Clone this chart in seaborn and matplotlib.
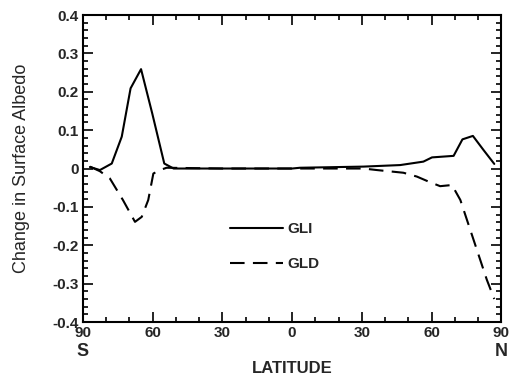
import numpy as np
import pandas as pd
import matplotlib
matplotlib.use("Agg")
import matplotlib.pyplot as plt
import seaborn as sns
from matplotlib.ticker import MultipleLocator

# --- data (latitude: negative = South) ---
gli_lat = [-87, -82.7, -77.6, -73.3, -69.5, -65, -60.2, -55, -51, -30, 0, 3.4, 30.7,
           46.5, 56.5, 60.2, 69.5, 73.3, 77.8, 82.4, 87]
gli_val = [0.004, -0.004, 0.013, 0.083, 0.209, 0.259, 0.144, 0.013, 0.0, 0.0, 0.0, 0.002, 0.005,
           0.009, 0.018, 0.029, 0.033, 0.076, 0.085, 0.048, 0.012]
gld_lat = [-87, -82.7, -78.4, -72.8, -67.6, -64.7, -61.9, -59.7, -56.8, -54, -30, 0, 30.7,
           36.5, 47.9, 53.7, 58.7, 63.7, 68.8, 72.4, 78.1, 83.8, 87]
gld_val = [0.005, -0.007, -0.026, -0.082, -0.139, -0.126, -0.082, -0.013, -0.004, 0.002, 0.0, 0.0, 0.0,
           -0.004, -0.011, -0.021, -0.034, -0.046, -0.043, -0.082, -0.186, -0.29, -0.34]
xtick_pos = [-90, -60, -30, 0, 30, 60, 90]
xtick_lab = ["90", "60", "30", "0", "30", "60", "90"]
ytick_pos = [-0.4, -0.3, -0.2, -0.1, 0, 0.1, 0.2, 0.3, 0.4]
ytick_lab = ["-0.4", "-0.3", "-0.2", "-0.1", "0", "0.1", "0.2", "0.3", "0.4"]

df = pd.concat([
    pd.DataFrame({"lat": gli_lat, "val": gli_val, "series": "GLI"}),
    pd.DataFrame({"lat": gld_lat, "val": gld_val, "series": "GLD"}),
])

sns.set_style("ticks")
plt.rcParams["font.family"] = ["Liberation Sans", "DejaVu Sans"]

fig = plt.figure(figsize=(5.12, 3.76), dpi=100)
ax = fig.add_axes([0.162, 0.1436, 0.817, 0.8164])

sns.lineplot(data=df, x="lat", y="val", style="series", style_order=["GLI", "GLD"],
             dashes={"GLI": "", "GLD": (7, 4)}, color="black", linewidth=1.5,
             sort=False, estimator=None, ax=ax)

ax.set_xlim(-90, 90)
ax.set_ylim(-0.4, 0.4)
ax.set_xticks(xtick_pos)
ax.set_xticklabels(xtick_lab, fontweight="bold", fontsize=11)
ax.set_yticks(ytick_pos)
ax.set_yticklabels(ytick_lab, fontweight="bold", fontsize=11)
ax.xaxis.set_minor_locator(MultipleLocator(10))
ax.yaxis.set_minor_locator(MultipleLocator(0.02))
ax.tick_params(which="both", direction="in", top=True, right=True, width=1.2, color="black")
ax.tick_params(which="major", length=7, pad=3)
ax.tick_params(which="minor", length=3.6)
for s in ax.spines.values():
    s.set_linewidth(1.5)
    s.set_color("black")

ax.set_xlabel("LATITUDE", fontweight="bold", fontsize=12)
ax.xaxis.set_label_coords(0.5, -0.15)
ax.xaxis.label.set_va("center")
ax.set_ylabel("Change in Surface Albedo", fontsize=13)
ax.yaxis.set_label_coords(-0.126, 0.5)

ax.text(-90, -0.478, "S", transform=ax.transData, ha="center", va="center",
        fontweight="bold", fontsize=13)
ax.text(90, -0.478, "N", transform=ax.transData, ha="center", va="center",
        fontweight="bold", fontsize=13)

leg = ax.legend(loc="lower left", bbox_to_anchor=(0.318, 0.12), frameon=False,
                handlelength=3.5, labelspacing=1.4, handletextpad=0.25,
                prop={"weight": "bold", "size": 11})
for line in leg.get_lines():
    line.set_linewidth(1.5)

fig.savefig("out.png", dpi=100)
